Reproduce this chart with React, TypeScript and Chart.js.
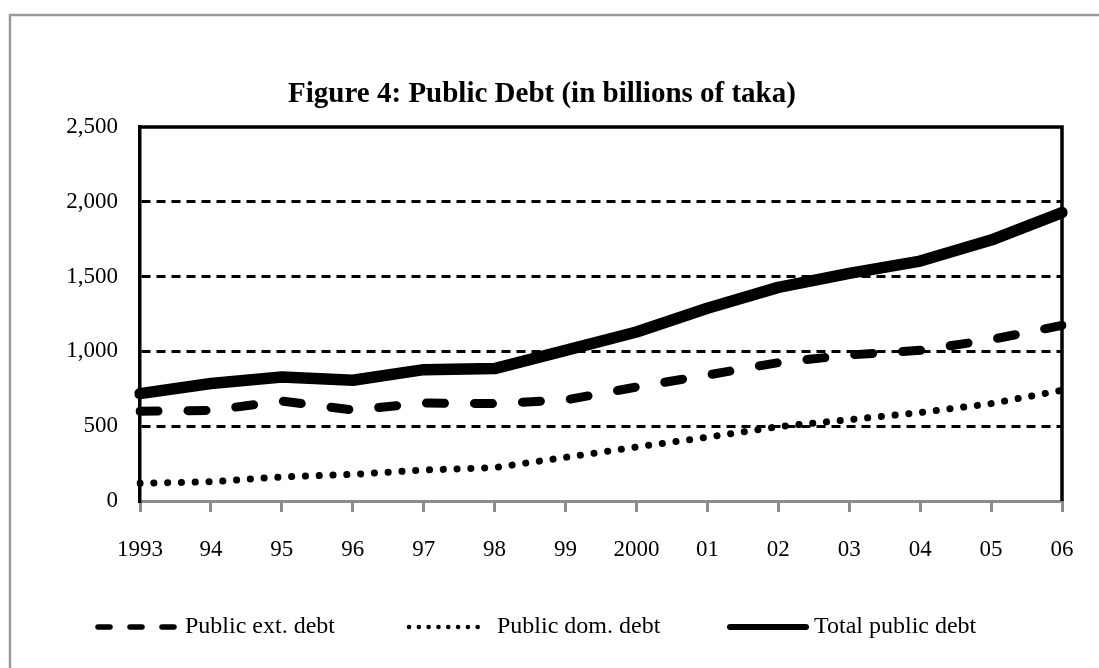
import React, { useEffect, useRef } from "react";
import { Chart, registerables } from "chart.js";

Chart.register(...registerables);

const titleText = "Figure 4: Public Debt (in billions of taka)";
const years = ["1993", "94", "95", "96", "97", "98", "99", "2000", "01", "02", "03", "04", "05", "06"];
const extDebt = [600, 606, 668, 608, 655, 651, 675, 762, 842, 925, 976, 1007, 1079, 1174];
const domDebt = [118, 129, 161, 178, 207, 223, 292, 361, 426, 497, 544, 591, 651, 740];
const totalDebt = [718, 785, 829, 807, 878, 885, 1007, 1130, 1288, 1428, 1522, 1604, 1744, 1928];
const seriesNames = ["Public ext. debt", "Public dom. debt", "Total public debt"];
const yTicks = [0, 500, 1000, 1500, 2000, 2500];

const FONT = '"Liberation Serif", "Times New Roman", serif';

const framePlugin = {
  id: "framePlugin",
  beforeDraw(chart: any) {
    const ctx = chart.ctx;
    ctx.save();
    ctx.strokeStyle = "#9a9a9a";
    ctx.lineWidth = 2.5;
    ctx.strokeRect(10, 15, 1300, 900);
    ctx.fillStyle = "#000";
    ctx.font = `bold 29px ${FONT}`;
    ctx.textAlign = "center";
    ctx.textBaseline = "middle";
    ctx.fillText(titleText, 542, 95);
    ctx.restore();
  },
  beforeDatasetsDraw(chart: any) {
    const { ctx, chartArea } = chart;
    ctx.save();
    ctx.strokeStyle = "#000";
    ctx.lineWidth = 3.5;
    ctx.beginPath();
    ctx.moveTo(chartArea.left, chartArea.top);
    ctx.lineTo(chartArea.right, chartArea.top);
    ctx.lineTo(chartArea.right, chartArea.bottom);
    ctx.stroke();
    ctx.restore();
  },
  afterDraw(chart: any) {
    const ctx = chart.ctx;
    const items = [
      { x0: 98, x1: 176, tx: 185, w: 5.5, dash: [12, 20] },
      { x0: 409, x1: 487, tx: 497, w: 4.5, dash: [0.1, 9.7] },
      { x0: 730, x1: 806, tx: 814, w: 6, dash: [] as number[] },
    ];
    const y = 627;
    ctx.save();
    chart.data.datasets.forEach((ds: any, i: number) => {
      const it = items[i];
      ctx.strokeStyle = ds.borderColor;
      ctx.lineWidth = it.w;
      ctx.lineCap = "round";
      ctx.setLineDash(it.dash);
      ctx.beginPath();
      ctx.moveTo(it.x0, y);
      ctx.lineTo(it.x1, y);
      ctx.stroke();
      ctx.setLineDash([]);
      ctx.fillStyle = "#000";
      ctx.font = `24px ${FONT}`;
      ctx.textAlign = "left";
      ctx.textBaseline = "middle";
      ctx.fillText(ds.label, it.tx, y);
    });
    ctx.restore();
  },
};

export default function App() {
  const ref = useRef<HTMLCanvasElement | null>(null);
  useEffect(() => {
    if (!ref.current) return;
    const chart = new Chart(ref.current, {
      type: "line",
      data: {
        labels: years,
        datasets: [
          {
            label: seriesNames[0],
            data: extDebt,
            borderColor: "#000",
            borderWidth: 9,
            borderDash: [18, 30],
            borderCapStyle: "round",
            borderJoinStyle: "round",
            pointRadius: 0,
            tension: 0,
            fill: false,
          },
          {
            label: seriesNames[1],
            data: domDebt,
            borderColor: "#000",
            borderWidth: 7,
            borderDash: [0.1, 13.7],
            borderCapStyle: "round",
            borderJoinStyle: "round",
            pointRadius: 0,
            tension: 0,
            fill: false,
          },
          {
            label: seriesNames[2],
            data: totalDebt,
            borderColor: "#000",
            borderWidth: 11.5,
            borderCapStyle: "round",
            borderJoinStyle: "round",
            pointRadius: 0,
            tension: 0,
            fill: false,
          },
        ],
      },
      options: {
        responsive: false,
        animation: false,
        layout: { padding: { top: 127, right: 37, left: 0, bottom: 0 } },
        plugins: {
          legend: { display: false },
          title: { display: false },
          tooltip: { enabled: false },
        },
        scales: {
          x: {
            type: "category",
            offset: false,
            afterFit(scale: any) {
              scale.height = 167;
            },
            grid: {
              drawOnChartArea: false,
              drawTicks: true,
              tickLength: 11,
              color: "#8c8c8c",
              lineWidth: 3,
            },
            border: { display: true, color: "#8c8c8c", width: 3 },
            ticks: {
              color: "#000",
              font: { family: FONT, size: 23 },
              padding: 24,
              maxRotation: 0,
              autoSkip: false,
            },
          },
          y: {
            min: 0,
            max: 2500,
            afterFit(scale: any) {
              scale.width = 140;
            },
            afterBuildTicks(scale: any) {
              scale.ticks = yTicks.map((v) => ({ value: v }));
            },
            grid: {
              drawTicks: false,
              lineWidth: 3,
              color: (c: any) =>
                c.tick && c.tick.value > 0 && c.tick.value < 2500 ? "#000" : "rgba(0,0,0,0)",
            },
            border: { display: true, color: "#000", width: 3.5, dash: [9, 6] },
            ticks: {
              color: "#000",
              font: { family: FONT, size: 23 },
              padding: 22,
              callback: (v: any) => Number(v).toLocaleString("en-US"),
            },
          },
        },
      } as any,
      plugins: [framePlugin],
    });
    return () => chart.destroy();
  }, []);
  return (
    <div style={{ position: "fixed", left: 0, top: 0, width: 1099, height: 668, background: "#fff" }}>
      <canvas ref={ref} width={1099} height={668} style={{ display: "block" }} />
    </div>
  );
}
